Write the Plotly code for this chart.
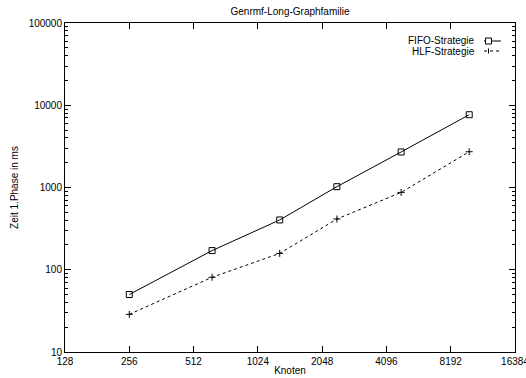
import plotly.graph_objects as go

knoten = [256, 625, 1296, 2401, 4800, 10000]
fifo = [50, 171, 403, 1023, 2704, 7670]
hlf = [28.7, 81, 158, 414, 871, 2722]
xticks = [128, 256, 512, 1024, 2048, 4096, 8192, 16384]
yticks = [10, 100, 1000, 10000, 100000]

font = dict(family="Liberation Sans, Arial, sans-serif", size=10, color="black")

fig = go.Figure()
fig.add_trace(go.Scatter(x=knoten, y=fifo, mode="lines+markers", name="FIFO-Strategie",
                         line=dict(color="black", width=1),
                         marker=dict(symbol="square-open", size=6, color="black", line=dict(width=1))))
fig.add_trace(go.Scatter(x=knoten, y=hlf, mode="lines+markers", name="HLF-Strategie",
                         line=dict(color="black", width=1, dash="3px,3px"),
                         marker=dict(symbol="cross-thin-open", size=5, color="black", line=dict(width=1, color="black"))))

fig.update_layout(
    width=526, height=378,
    margin=dict(l=65, r=11, t=23, b=26, autoexpand=False),
    paper_bgcolor="white", plot_bgcolor="white",
    font=font, showlegend=False,
    title=dict(text="Genrmf-Long-Graphfamilie", x=0.5, xref="paper", y=1 - 11 / 378, yanchor="middle",
               font=font),
)
fig.update_xaxes(type="log", range=[2.10721, 4.21442], tickvals=xticks, ticktext=[str(v) for v in xticks],
                 ticks="inside", ticklen=6, tickcolor="black", mirror="ticks", showline=True,
                 linecolor="black", linewidth=1, showgrid=False, zeroline=False,
                 ticklabeloverflow="allow", automargin=False,
                 title=dict(text="Knoten", standoff=0, font=font), tickfont=font)
fig.update_yaxes(type="log", range=[1, 5], tickvals=yticks, ticktext=[str(v) for v in yticks],
                 ticks="inside", ticklen=6, tickcolor="black", mirror="ticks", showline=True,
                 linecolor="black", linewidth=1, showgrid=False, zeroline=False, automargin=False,
                 minor=dict(ticks="inside", ticklen=3, tickcolor="black", dtick="D1", showgrid=False),
                 title=dict(text="Zeit 1.Phase in ms", standoff=8, font=font), tickfont=font)

# legend (gnuplot style: text right-aligned, sample to the right)
def px(x):
    return (x - 65) / (515 - 65)
def py(y):
    return (352 - y) / (352 - 23)

legend_rows = [("FIFO-Strategie", 41, "solid", "square"), ("HLF-Strategie", 51, "dash", "plus")]
for label, yy, dash, mk in legend_rows:
    fig.add_annotation(text=label, xref="paper", yref="paper", x=px(477), y=py(yy),
                       xanchor="right", yanchor="middle", showarrow=False, font=font)
    fig.add_shape(type="line", xref="paper", yref="paper", x0=px(484), x1=px(501), y0=py(yy), y1=py(yy),
                  line=dict(color="black", width=1, dash=dash if dash == "solid" else "3px,3px"))
    if mk == "square":
        fig.add_shape(type="rect", xref="paper", yref="paper", x0=px(485.5), x1=px(491.5),
                      y0=py(yy - 3), y1=py(yy + 3), line=dict(color="black", width=1), fillcolor="white")
    else:
        fig.add_shape(type="line", xref="paper", yref="paper", x0=px(488.5), x1=px(488.5),
                      y0=py(yy - 2.5), y1=py(yy + 2.5), line=dict(color="black", width=1))

fig.write_html("out.html")
